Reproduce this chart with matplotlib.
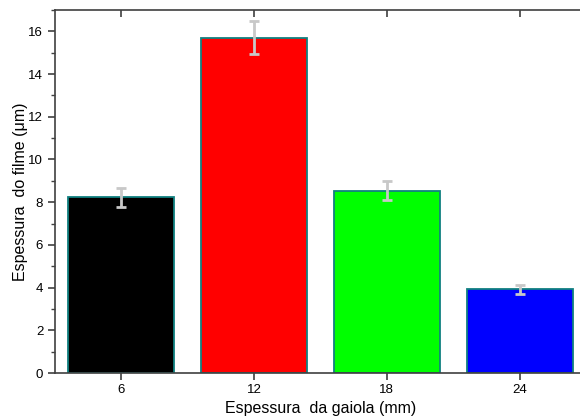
import matplotlib
matplotlib.use("Agg")
import matplotlib.pyplot as plt
from matplotlib.ticker import MultipleLocator

categories = ["6", "12", "18", "24"]
values = [8.22, 15.7, 8.54, 3.93]
errors = [0.43, 0.78, 0.44, 0.21]
colors = ["#000000", "#ff0000", "#00ff00", "#0000ff"]

plt.rcParams['font.family'] = ['Liberation Sans', 'DejaVu Sans']

fig = plt.figure(figsize=(5.8, 4.19), dpi=100)
ax = fig.add_axes([55/580, 46/419, 531/580, 363/419])

pos = list(range(1, len(categories) + 1))
ax.bar(pos, values, width=0.8, color=colors, edgecolor="#108080", linewidth=1.3, zorder=2)
ax.errorbar(pos, values, yerr=errors, fmt="none", ecolor="#c8c8c8", elinewidth=2,
            capsize=3.5, capthick=2, zorder=3)

ax.set_xlim(0.5, 4.5)
ax.set_ylim(0, 17)
ax.set_xticks(pos)
ax.set_xticklabels(categories)
ax.yaxis.set_major_locator(MultipleLocator(2))
ax.yaxis.set_minor_locator(MultipleLocator(1))

ax.spines['right'].set_visible(False)
for s in ['left', 'bottom', 'top']:
    ax.spines[s].set_color("#404040")
    ax.spines[s].set_linewidth(1.2)

ax.tick_params(axis='x', which='major', direction='out', length=5, width=1.2,
               color="#404040", labelsize=9.5, top=True, pad=3)
ax.tick_params(axis='y', which='major', direction='out', length=5, width=1.2,
               color="#404040", labelsize=9.5)
ax.tick_params(axis='y', which='minor', direction='out', length=3, width=1.0,
               color="#404040")

# top ticks point inward
for t in ax.xaxis.get_major_ticks():
    t.tick2line.set_marker(3)  # TICKDOWN
    t.tick2line.set_markersize(5)

ax.set_xlabel("Espessura  da gaiola (mm)", fontsize=11.5, labelpad=3.5)
ax.set_ylabel("Espessura  do filme (\u03bcm)", fontsize=11.5, labelpad=0.5)

fig.savefig("out.png", dpi=100)
